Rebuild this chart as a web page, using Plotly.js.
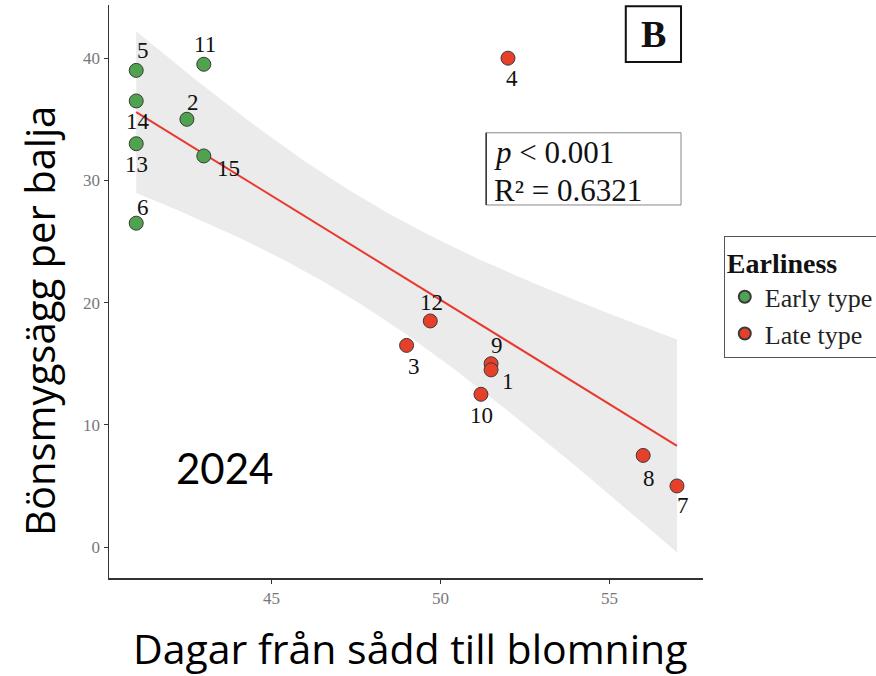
<!DOCTYPE html>
<html>
<head>
<meta charset="utf-8">
<script src="https://cdn.plot.ly/plotly-3.0.1.min.js"></script>
<style>
  html, body { margin: 0; padding: 0; background: #ffffff; }
  #chart { width: 876px; height: 676px; }
</style>
</head>
<body>
<div id="chart"></div>
<script>
// ---- Data ----
const genotypeIds = ["5", "14", "13", "6", "2", "11", "15", "4", "12", "3", "9", "1", "10", "8", "7"];
const daysToFlowering = [41.0, 41.0, 41.0, 41.0, 42.5, 43.0, 43.0, 52.0, 49.7, 49.0, 51.5, 51.5, 51.2, 56.0, 57.0];
const eggsPerPod = [39.0, 36.5, 33.0, 26.5, 35.0, 39.5, 32.0, 40.0, 18.5, 16.5, 15.0, 14.5, 12.5, 7.5, 5.0];
const earliness = ["Early type", "Early type", "Early type", "Early type", "Early type", "Early type", "Early type",
                   "Late type", "Late type", "Late type", "Late type", "Late type", "Late type", "Late type", "Late type"];
const groupNames = ["Early type", "Late type"];
const xTickVals = [45, 50, 55];
const yTickVals = [0, 10, 20, 30, 40];
const statText = ["<i>p</i> < 0.001", "R² = 0.6321"];
const panelLetter = "B";
const yearText = "2024";
const xTitle = "Dagar från sådd till blomning";
const yTitle = "Bönsmygsägg per balja";

// ---- Styles (kept separate from data) ----
const groupColors = {"Early type": "#4FA34F", "Late type": "#E6402B"};
// label offsets in screen pixels [dx, dy] (dy positive = down)
const labelOffsets = {
  "5": [7, -20], "14": [2, 21], "13": [0, 21], "6": [7, -16], "2": [6, -17], "11": [1, -20],
  "15": [25, 13], "4": [4, 20], "12": [1, -18], "3": [7, 21], "9": [6, -18], "1": [17, 12],
  "10": [1, 21], "8": [6, 23], "7": [6, 20]
};

// ---- Linear model (as geom_smooth(method = "lm") computes it) ----
const n = daysToFlowering.length;
const mx = daysToFlowering.reduce((a, b) => a + b, 0) / n;
const my = eggsPerPod.reduce((a, b) => a + b, 0) / n;
let sxx = 0, sxy = 0;
for (let i = 0; i < n; i++) {
  sxx += (daysToFlowering[i] - mx) ** 2;
  sxy += (daysToFlowering[i] - mx) * (eggsPerPod[i] - my);
}
const slope = sxy / sxx;
const intercept = my - slope * mx;
let sse = 0;
for (let i = 0; i < n; i++) {
  sse += (eggsPerPod[i] - (intercept + slope * daysToFlowering[i])) ** 2;
}
const sigma = Math.sqrt(sse / (n - 2));
const tCrit = 2.160; // t(0.975, df = 13)
const xMin = Math.min(...daysToFlowering), xMax = Math.max(...daysToFlowering);
const gridX = [], fitY = [], upY = [], loY = [];
const steps = 80;
for (let k = 0; k < steps; k++) {
  const x = xMin + (xMax - xMin) * k / (steps - 1);
  const yhat = intercept + slope * x;
  const se = sigma * Math.sqrt(1 / n + (x - mx) ** 2 / sxx);
  gridX.push(x); fitY.push(yhat);
  upY.push(yhat + tCrit * se); loY.push(yhat - tCrit * se);
}

const bandTrace = {
  x: gridX.concat(gridX.slice().reverse()),
  y: upY.concat(loY.slice().reverse()),
  type: "scatter", mode: "lines", fill: "toself",
  fillcolor: "#EBEBEB", line: {width: 0, color: "rgba(0,0,0,0)"},
  hoverinfo: "skip", showlegend: false
};
const fitTrace = {
  x: gridX, y: fitY, type: "scatter", mode: "lines",
  line: {color: "#E8392E", width: 2}, showlegend: false, hoverinfo: "skip"
};
const pointTraces = groupNames.map(g => {
  const xs = [], ys = [], ts = [];
  for (let i = 0; i < n; i++) if (earliness[i] === g) {
    xs.push(daysToFlowering[i]); ys.push(eggsPerPod[i]); ts.push(genotypeIds[i]);
  }
  return {
    x: xs, y: ys, text: ts, name: g, type: "scatter", mode: "markers",
    marker: {color: groupColors[g], size: 14, line: {color: "#3a3a3a", width: 1}}
  };
});

const serif = "Liberation Serif, Times New Roman, serif";
const sans = "Open Sans, Liberation Sans, sans-serif";

const annotations = genotypeIds.map((id, i) => ({
  x: daysToFlowering[i], y: eggsPerPod[i], xref: "x", yref: "y",
  text: id, showarrow: false,
  xshift: labelOffsets[id][0], yshift: -labelOffsets[id][1],
  font: {family: serif, size: 23, color: "#111111"}
}));

annotations.push(
  {xref: "paper", yref: "paper", x: 0.645, y: 0.742, xanchor: "left", yanchor: "middle",
   text: statText[0], showarrow: false, font: {family: serif, size: 31, color: "#111"}},
  {xref: "paper", yref: "paper", x: 0.645, y: 0.677, xanchor: "left", yanchor: "middle",
   text: statText[1], showarrow: false, font: {family: serif, size: 31, color: "#111"}},
  {xref: "paper", yref: "paper", x: 0.9165, y: 0.950, xanchor: "center", yanchor: "middle",
   text: "<b>" + panelLetter + "</b>", showarrow: false, font: {family: serif, size: 38, color: "#111"}},
  {xref: "paper", yref: "paper", x: 0.195, y: 0.192, xanchor: "center", yanchor: "middle",
   text: yearText, showarrow: false, font: {family: "Lato, sans-serif", size: 42, color: "#000"}},
  {xref: "paper", yref: "paper", x: 0.507, y: -0.123, xanchor: "center", yanchor: "middle",
   text: xTitle, showarrow: false, font: {family: sans, size: 41, color: "#000"}},
  {xref: "paper", yref: "paper", x: -0.118, y: 0.4485, xanchor: "center", yanchor: "middle",
   text: yTitle, textangle: -90, showarrow: false, font: {family: sans, size: 40, color: "#000"}}
);

const layout = {
  width: 876, height: 676,
  margin: {l: 109, r: 173, t: 5, b: 98, autoexpand: false},
  paper_bgcolor: "#ffffff", plot_bgcolor: "#ffffff",
  showlegend: true,
  legend: {
    x: 1.035, y: 0.597, xanchor: "left", yanchor: "top",
    bordercolor: "#555", borderwidth: 1, bgcolor: "#ffffff",
    title: {text: "<b>Earliness</b>", font: {family: serif, size: 28, color: "#111"}},
    font: {family: serif, size: 26, color: "#222"},
    itemsizing: "constant", tracegroupgap: 0
  },
  xaxis: {
    range: [40.195, 57.77], tickvals: xTickVals, ticktext: xTickVals.map(String),
    showgrid: false, zeroline: false, showline: true, linecolor: "#333", linewidth: 1.5,
    ticks: "outside", ticklen: 4, tickcolor: "#333", tickwidth: 1,
    tickfont: {family: serif, size: 17, color: "#777"}
  },
  yaxis: {
    range: [-2.53, 44.35], tickvals: yTickVals, ticktext: yTickVals.map(String),
    showgrid: false, zeroline: false, showline: true, linecolor: "#333", linewidth: 1.5,
    ticks: "outside", ticklen: 4, tickcolor: "#333", tickwidth: 1,
    tickfont: {family: serif, size: 17, color: "#777"}
  },
  shapes: [
    {type: "rect", xref: "paper", yref: "paper", x0: 0.635, x1: 0.963, y0: 0.651, y1: 0.777,
     line: {color: "#888", width: 1}, fillcolor: "rgba(255,255,255,0)"},
    {type: "line", xref: "paper", yref: "paper", x0: 0.635, x1: 0.635, y0: 0.651, y1: 0.777,
     line: {color: "#333", width: 1.5}},
    {type: "rect", xref: "paper", yref: "paper", x0: 0.870, x1: 0.963, y0: 0.9005, y1: 0.998,
     line: {color: "#111", width: 2}, fillcolor: "rgba(255,255,255,0)"}
  ],
  annotations: annotations
};

Plotly.newPlot("chart", [bandTrace, fitTrace].concat(pointTraces), layout, {displayModeBar: false, staticPlot: true});
</script>
</body>
</html>
